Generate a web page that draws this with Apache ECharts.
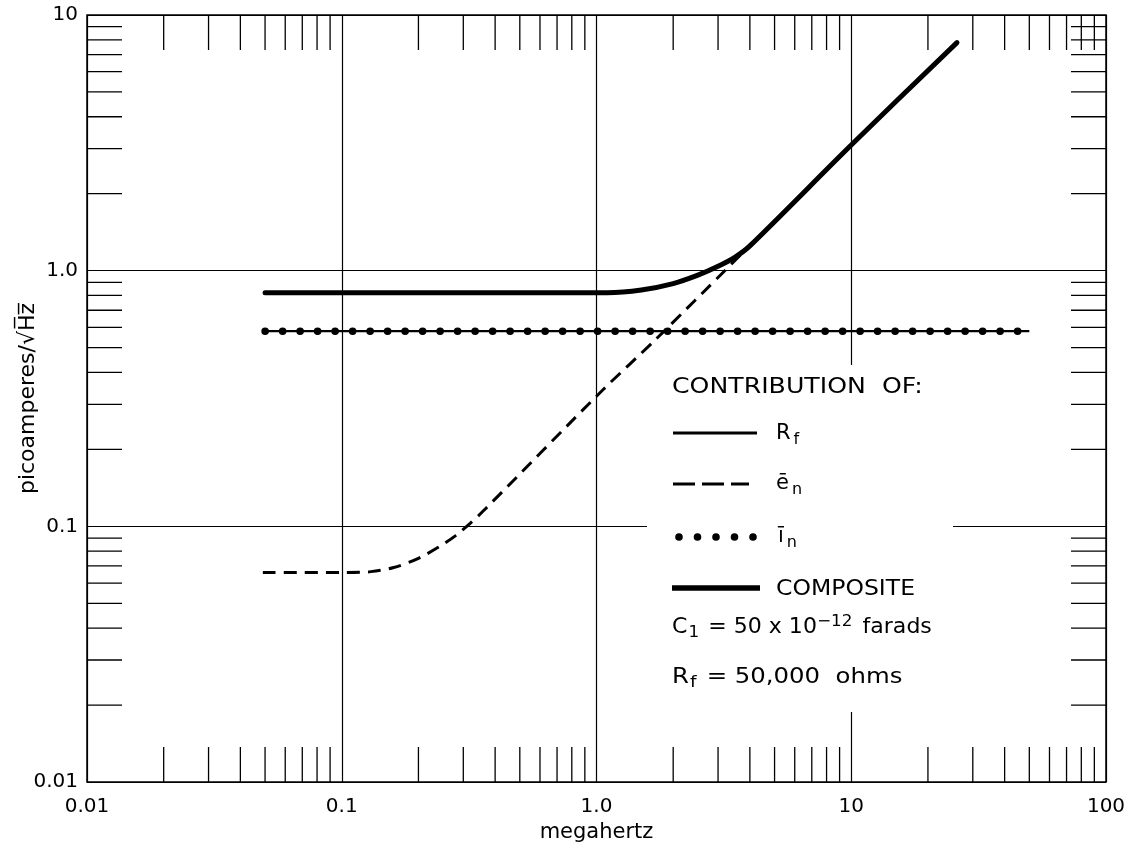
<!DOCTYPE html>
<html>
<head>
<meta charset="utf-8">
<title>Noise contribution vs frequency</title>
<script src="https://cdn.jsdelivr.net/npm/echarts@6/dist/echarts.min.js"></script>
<style>
  html, body { margin: 0; padding: 0; background: #fff; }
  #chart { width: 1138px; height: 849px; }
</style>
</head>
<body>
<div id="chart"></div>
<script>
// values (frequency in MHz, noise in pA/sqrt(Hz))
const rfFreq = [0.05, 50];
const rfVal = [0.58, 0.58];

const inFreq = [0.05, 50];
const inVal = [0.58, 0.58];

const enFreq = [0.049, 0.105, 0.13, 0.16, 0.2, 0.24, 0.28, 0.32, 0.36, 1.06, 1.70, 3.83];
const enVal = [0.066, 0.066, 0.0665, 0.069, 0.075, 0.083, 0.092, 0.103, 0.115, 0.342, 0.536, 1.2];

const compFreq = [0.05, 1.1, 1.5, 2.0, 2.5, 3.0, 3.5, 4.0, 10, 26];
const compVal = [0.82, 0.82, 0.84, 0.89, 0.96, 1.04, 1.13, 1.25, 3.1, 7.8];

// axis labels and the log-paper minor ticks
const xLabels = ['0.01', '0.1', '1.0', '10', '100'];
const yLabels = ['0.01', '0.1', '1.0', '10'];
const xMinorTicks = [0.02, 0.03, 0.04, 0.05, 0.06, 0.07, 0.08, 0.09,
  0.2, 0.3, 0.4, 0.5, 0.6, 0.7, 0.8, 0.9,
  2, 3, 4, 5, 6, 7, 8, 9,
  20, 30, 40, 50, 60, 70, 80, 90];
const yMinorTicks = [0.02, 0.03, 0.04, 0.05, 0.06, 0.07, 0.08, 0.09,
  0.2, 0.3, 0.4, 0.5, 0.6, 0.7, 0.8, 0.9,
  2, 3, 4, 5, 6, 7, 8, 9];

const FONT = '"DejaVu Sans", sans-serif';
const pair = (xs, ys) => xs.map((x, i) => [x, ys[i]]);

const chart = echarts.init(document.getElementById('chart'));

function tickRenderer(horizontal) {
  return function (params, api) {
    const v = api.value(horizontal ? 0 : 1);
    const len = 35;
    const style = { stroke: '#000', lineWidth: 1.3 };
    if (horizontal) {
      const b = api.coord([v, 0.01]);
      const t = api.coord([v, 10]);
      return {
        type: 'group',
        children: [
          { type: 'line', shape: { x1: b[0], y1: b[1], x2: b[0], y2: b[1] - len }, style },
          { type: 'line', shape: { x1: t[0], y1: t[1], x2: t[0], y2: t[1] + len }, style }
        ]
      };
    }
    const l = api.coord([0.01, v]);
    const r = api.coord([100, v]);
    return {
      type: 'group',
      children: [
        { type: 'line', shape: { x1: l[0], y1: l[1], x2: l[0] + len, y2: l[1] }, style },
        { type: 'line', shape: { x1: r[0], y1: r[1], x2: r[0] - len, y2: r[1] }, style }
      ]
    };
  };
}

const main = { fontSize: 21, fontFamily: FONT };
const sub = { fontSize: 16, fontFamily: FONT, padding: [12, 0, 0, 3] };

chart.setOption({
  animation: false,
  backgroundColor: '#fff',
  grid: {
    left: 87, right: 32, top: 15, bottom: 67,
    containLabel: false, outerBoundsMode: 'none',
    show: true, borderColor: '#000', borderWidth: 1.5, backgroundColor: 'transparent'
  },
  xAxis: {
    type: 'log', logBase: 10, min: 0.01, max: 100,
    name: 'megahertz', nameLocation: 'middle', nameGap: 40, nameMoveOverlap: false,
    nameTextStyle: { color: '#000', fontSize: 21, fontFamily: FONT },
    axisLine: { show: false }, axisTick: { show: false },
    axisLabel: {
      color: '#000', fontSize: 20, fontFamily: FONT, margin: 15,
      formatter: v => xLabels[Math.round(Math.log10(v)) + 2]
    },
    splitLine: { show: true, lineStyle: { color: '#000', width: 1.2 } }
  },
  yAxis: {
    type: 'log', logBase: 10, min: 0.01, max: 10,
    name: 'picoamperes/√H\u0305z\u0305', nameLocation: 'middle', nameGap: 48, nameMoveOverlap: false,
    nameTextStyle: { color: '#000', fontSize: 22, fontFamily: FONT },
    axisLine: { show: false }, axisTick: { show: false },
    axisLabel: {
      color: '#000', fontSize: 20, fontFamily: FONT, margin: 9,
      formatter: v => yLabels[Math.round(Math.log10(v)) + 2]
    },
    splitLine: { show: true, lineStyle: { color: '#000', width: 1.2 } }
  },
  graphic: [
    // blank patch behind the legend block, like the paper original
    { type: 'rect', z: 1, shape: { x: 647, y: 365, width: 306, height: 347 }, style: { fill: '#fff' } },
    {
      type: 'text', z: 10, x: 672, y: 388, scaleX: 1.2,
      style: { text: 'CONTRIBUTION  OF:', verticalAlign: 'middle', fill: '#000', font: '21px ' + FONT }
    },
    { type: 'line', z: 10, shape: { x1: 673, y1: 433, x2: 757, y2: 433 }, style: { stroke: '#000', lineWidth: 3 } },
    {
      type: 'text', z: 10, x: 776, y: 434,
      style: { text: '{m|R}{s|f}', verticalAlign: 'middle', rich: { m: main, s: sub } }
    },
    { type: 'line', z: 10, shape: { x1: 673, y1: 484, x2: 749, y2: 484 }, style: { stroke: '#000', lineWidth: 3, lineDash: [22, 7] } },
    {
      type: 'text', z: 10, x: 776, y: 484,
      style: { text: '{m|ē}{s|n}', verticalAlign: 'middle', rich: { m: main, s: sub } }
    },
    { type: 'circle', z: 10, shape: { cx: 679, cy: 537, r: 3.8 }, style: { fill: '#000' } },
    { type: 'circle', z: 10, shape: { cx: 697.5, cy: 537, r: 3.8 }, style: { fill: '#000' } },
    { type: 'circle', z: 10, shape: { cx: 716, cy: 537, r: 3.8 }, style: { fill: '#000' } },
    { type: 'circle', z: 10, shape: { cx: 734.5, cy: 537, r: 3.8 }, style: { fill: '#000' } },
    { type: 'circle', z: 10, shape: { cx: 753, cy: 537, r: 3.8 }, style: { fill: '#000' } },
    {
      type: 'text', z: 10, x: 778, y: 537,
      style: { text: '{m|ī}{s|n}', verticalAlign: 'middle', rich: { m: main, s: sub } }
    },
    { type: 'line', z: 10, shape: { x1: 672, y1: 588, x2: 760, y2: 588 }, style: { stroke: '#000', lineWidth: 5.5 } },
    {
      type: 'text', z: 10, x: 776, y: 590, scaleX: 1.12,
      style: { text: 'COMPOSITE', verticalAlign: 'middle', fill: '#000', font: '21px ' + FONT }
    },
    {
      type: 'text', z: 10, x: 672, y: 628, scaleX: 1.05,
      style: {
        text: '{m|C}{s|1}{m| = 50 x 10}{p|−12}{m| farads}', verticalAlign: 'middle',
        rich: {
          m: main,
          s: { fontSize: 16, fontFamily: FONT, padding: [10, 2, 0, 1] },
          p: { fontSize: 16, fontFamily: FONT, padding: [0, 3, 12, 0] }
        }
      }
    },
    {
      type: 'text', z: 10, x: 672, y: 678, scaleX: 1.16,
      style: {
        text: '{m|R}{s|f}{m| = 50,000  ohms}', verticalAlign: 'middle',
        rich: {
          m: main,
          s: { fontSize: 16, fontFamily: FONT, padding: [10, 2, 0, 1] }
        }
      }
    }
  ],
  series: [
    {
      name: 'x ticks', type: 'custom', silent: true, z: 3,
      renderItem: tickRenderer(true),
      data: xMinorTicks.map(v => [v, 1])
    },
    {
      name: 'y ticks', type: 'custom', silent: true, z: 3,
      renderItem: tickRenderer(false),
      data: yMinorTicks.map(v => [1, v])
    },
    {
      name: 'Rf', type: 'line', showSymbol: false, z: 4,
      lineStyle: { color: '#000', width: 2.2 },
      data: pair(rfFreq, rfVal)
    },
    {
      name: 'in', type: 'line', showSymbol: false, z: 5,
      lineStyle: { color: '#000', width: 7.5, type: [0.1, 17.4], cap: 'round' },
      data: pair(inFreq, inVal)
    },
    {
      name: 'en', type: 'line', showSymbol: false, z: 4, smooth: 0.3,
      lineStyle: { color: '#000', width: 3, type: [13, 8] },
      data: pair(enFreq, enVal)
    },
    {
      name: 'composite', type: 'line', showSymbol: false, z: 6, smooth: 0.3,
      lineStyle: { color: '#000', width: 5, cap: 'round' },
      data: pair(compFreq, compVal)
    }
  ]
});
</script>
</body>
</html>
